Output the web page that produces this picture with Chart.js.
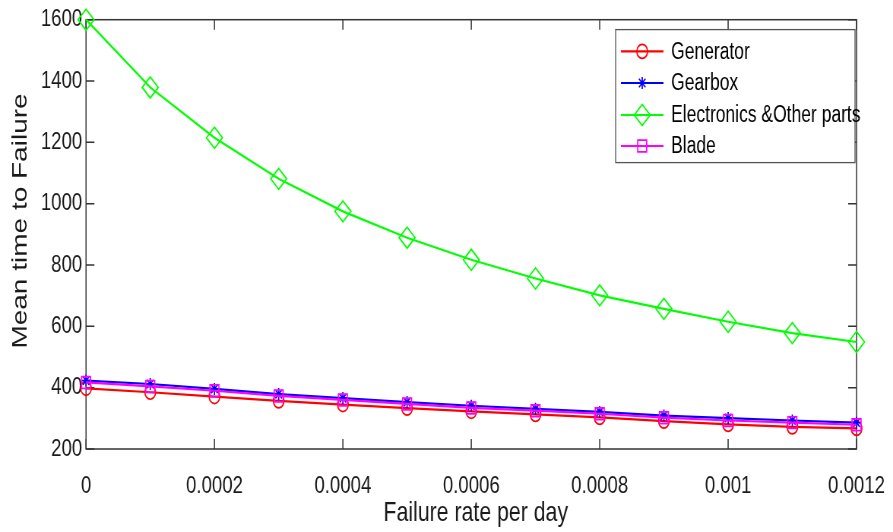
<!DOCTYPE html>
<html>
<head>
<meta charset="utf-8">
<script src="https://cdn.jsdelivr.net/npm/chart.js@4.4.1/dist/chart.umd.min.js"></script>
<style>
html,body{margin:0;padding:0;overflow:hidden;background:#fff;width:893px;height:532px;}
#wrap{position:absolute;left:0;top:0;width:1175px;height:532px;transform:scaleX(0.76);transform-origin:0 0;}
#c{display:block;width:1175px;height:532px;}
</style>
</head>
<body>
<div id="wrap"><canvas id="c" width="1175" height="532"></canvas></div>
<script>
// ---- data ----
const failureRates = [0, 0.0001, 0.0002, 0.0003, 0.0004, 0.0005, 0.0006, 0.0007, 0.0008, 0.0009, 0.001, 0.0011, 0.0012];
const xTickLabels = ['0', '0.0002', '0.0004', '0.0006', '0.0008', '0.001', '0.0012'];
const yTickLabels = ['200', '400', '600', '800', '1000', '1200', '1400', '1600'];
const seriesNames = ['Generator', 'Gearbox', 'Electronics &Other parts', 'Blade'];
const xAxisTitle = 'Failure rate per day';
const yAxisTitle = 'Mean time to Failure';
const generator   = [398, 385, 371, 357, 345, 333, 323, 313, 303, 291, 280, 272, 267];
const gearbox     = [423, 412, 396, 379, 366, 353, 341, 331, 321, 309, 301, 293, 286];
const electronics = [1600, 1379, 1215, 1081, 975, 889, 817, 756, 701, 657, 615, 578, 549];
const blade       = [417, 404, 390, 373, 360, 347, 334, 325, 315, 302, 293, 286, 279];

const pts = arr => failureRates.map((x, i) => ({ x: x, y: arr[i] }));
const FONT = "'Liberation Sans', Arial, Helvetica, sans-serif";

function drawMarker(c, style, x, y, r) {
  c.beginPath();
  if (style === 'circle') {
    c.arc(x, y, r, 0, Math.PI * 2);
  } else if (style === 'rect') {
    const s = r * Math.SQRT1_2;
    c.rect(x - s, y - s, 2 * s, 2 * s);
  } else if (style === 'rectRot') {
    c.moveTo(x, y - r); c.lineTo(x + r, y); c.lineTo(x, y + r); c.lineTo(x - r, y); c.closePath();
  } else if (style === 'star') {
    for (let k = 0; k < 4; k++) {
      const a = k * Math.PI / 4;
      c.moveTo(x - Math.cos(a) * r, y - Math.sin(a) * r);
      c.lineTo(x + Math.cos(a) * r, y + Math.sin(a) * r);
    }
  }
  c.stroke();
}

const boxPlugin = {
  id: 'matlabBox',
  beforeDatasetsDraw(chart) {
    const c = chart.ctx, a = chart.chartArea;
    const xs = chart.scales.x, ys = chart.scales.y;
    c.save();
    c.strokeStyle = '#333';
    c.lineWidth = 1.5;
    c.strokeRect(a.left, a.top, a.right - a.left, a.bottom - a.top);
    c.beginPath();
    xs.ticks.forEach(t => {
      const px = xs.getPixelForValue(t.value);
      c.moveTo(px, a.bottom); c.lineTo(px, a.bottom - 10);
      c.moveTo(px, a.top); c.lineTo(px, a.top + 10);
    });
    ys.ticks.forEach(t => {
      const py = ys.getPixelForValue(t.value);
      c.moveTo(a.left, py); c.lineTo(a.left + 11, py);
      c.moveTo(a.right, py); c.lineTo(a.right - 11, py);
    });
    c.stroke();
    c.fillStyle = '#1a1a1a';
    c.font = '28px ' + FONT;
    c.textAlign = 'center';
    c.textBaseline = 'middle';
    // x axis title
    c.fillText(xAxisTitle, 626, 513);
    // y axis title
    c.save();
    c.translate(27, 221);
    c.rotate(-Math.PI / 2);
    c.fillText(yAxisTitle, 0, 0);
    c.restore();
    c.restore();
  }
};

const legendPlugin = {
  id: 'boxLegend',
  afterDraw(chart) {
    const c = chart.ctx;
    const L = 810, T = 29.6, R = 1125, B = 162.6;
    const rows = [51.4, 83, 115, 146];
    c.save();
    c.fillStyle = '#fff';
    c.fillRect(L, T, R - L, B - T);
    c.strokeStyle = '#555';
    c.lineWidth = 1.3;
    c.strokeRect(L, T, R - L, B - T);
    chart.data.datasets.forEach((ds, i) => {
      const y = rows[i];
      c.strokeStyle = ds.borderColor;
      c.lineWidth = ds.borderWidth;
      c.beginPath(); c.moveTo(817, y); c.lineTo(873, y); c.stroke();
      c.lineWidth = ds.pointBorderWidth;
      drawMarker(c, ds.pointStyle, 845, y, ds.pointRadius);
      c.fillStyle = '#000';
      c.font = '23px ' + FONT;
      c.textBaseline = 'middle';
      c.textAlign = 'left';
      c.fillText(ds.label, 883, y + 1);
    });
    c.restore();
  }
};

const common = { borderWidth: 2.2, pointBorderWidth: 1.7, backgroundColor: 'rgba(0,0,0,0)', pointBackgroundColor: 'rgba(0,0,0,0)', tension: 0, clip: false, fill: false };

new Chart(document.getElementById('c'), {
  type: 'line',
  data: {
    datasets: [
      Object.assign({ label: seriesNames[0], data: pts(generator), borderColor: '#ff0000', pointBorderColor: '#ff0000', pointStyle: 'circle', pointRadius: 7, order: 4 }, common),
      Object.assign({ label: seriesNames[1], data: pts(gearbox), borderColor: '#0000ff', pointBorderColor: '#0000ff', pointStyle: 'star', pointRadius: 6, order: 3 }, common),
      Object.assign({ label: seriesNames[2], data: pts(electronics), borderColor: '#00ff00', pointBorderColor: '#00ff00', pointStyle: 'rectRot', pointRadius: 10.5, order: 2 }, common),
      Object.assign({ label: seriesNames[3], data: pts(blade), borderColor: '#ff00ff', pointBorderColor: '#ff00ff', pointStyle: 'rect', pointRadius: 8.3, order: 1 }, common)
    ]
  },
  options: {
    responsive: false,
    maintainAspectRatio: false,
    animation: false,
    devicePixelRatio: 1,
    layout: { padding: { left: 0, top: 16, right: 48, bottom: 0 } },
    plugins: { legend: { display: false }, tooltip: { enabled: false } },
    scales: {
      x: {
        type: 'linear', min: 0, max: 0.0012,
        grid: { display: false, drawTicks: true, tickLength: 23 }, border: { display: false },
        ticks: {
          stepSize: 0.0002, autoSkip: false, maxRotation: 0, minRotation: 0,
          color: '#1a1a1a', font: { family: FONT, size: 24.5 }, padding: 0,
          callback: (v) => xTickLabels[Math.round(v / 0.0002)]
        },
        title: { display: false },
        afterFit(s) { s.height = 83; }
      },
      y: {
        min: 200, max: 1600,
        grid: { display: false, drawTicks: false }, border: { display: false },
        ticks: {
          stepSize: 200, autoSkip: false,
          color: '#1a1a1a', font: { family: FONT, size: 24.5 }, padding: 5,
          callback: (v) => yTickLabels[Math.round((v - 200) / 200)]
        },
        title: { display: false },
        afterFit(s) { s.width = 113.2; }
      }
    }
  },
  plugins: [boxPlugin, legendPlugin]
});
</script>
</body>
</html>
